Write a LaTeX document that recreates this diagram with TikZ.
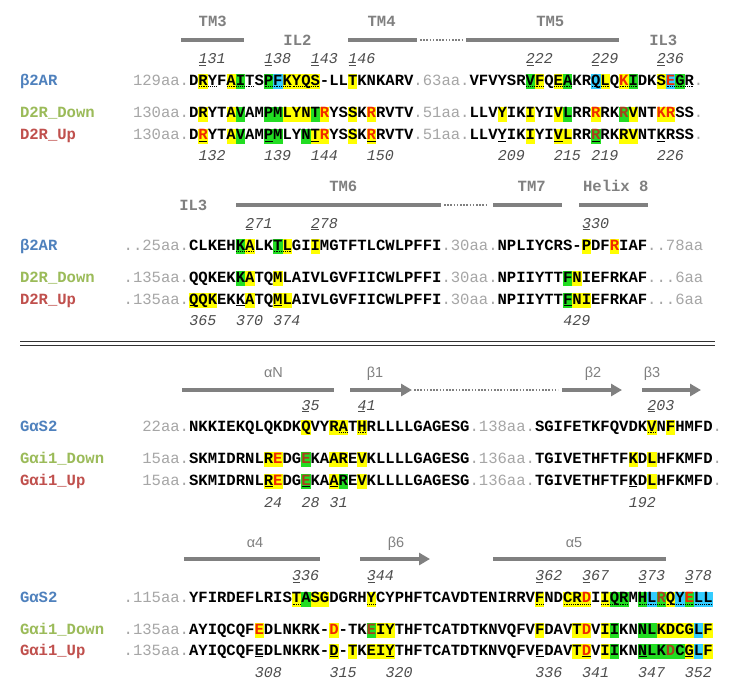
\documentclass[tikz,border=0pt]{standalone}
\usepackage{fontspec}
\setmonofont{Liberation Mono}
\newfontfamily\greekfont{Liberation Sans}
\usetikzlibrary{arrows.meta}

\definecolor{yel}{HTML}{FFFF00}
\definecolor{grn}{HTML}{22DD22}
\definecolor{cyn}{HTML}{33CCFF}
\definecolor{resred}{HTML}{F02800}
\definecolor{resdark}{HTML}{A8401C}
\definecolor{pregray}{HTML}{A6A6A6}
\definecolor{numgray}{HTML}{4D4D4D}
\definecolor{strgray}{HTML}{808080}
\definecolor{refblue}{HTML}{4F81BD}
\definecolor{downgreen}{HTML}{9BBB59}
\definecolor{upred}{HTML}{C0504D}

% column grid of the alignment
\def\xo{133}
\def\pitch{9.35}

\newcommand\pre[1]{{\mdseries\color{pregray}#1}}
\newcommand\rd[1]{\textcolor{resred}{#1}}
\newcommand\dk[1]{\textcolor{resdark}{#1}}

% highlight boxes: baseline, list of column/colour
\newcommand\hlbox[2]{\foreach \c/\hc in {#2}{\fill[\hc] ({\xo+\pitch*\c},#1-11) rectangle ++(\pitch,15.3);}}
% underlines under residues: baseline, style, columns
\newcommand\ulres[3]{\foreach \c in {#3}{\draw[#2] ({\xo+\pitch*\c+0.6},#1+1.8) -- ++(\pitch-1.2,0);}}
% residue numbers above (first digit underlined) and below
\newcommand\numtop[3]{\foreach \c/\n in {#3}{\node[num] (#1\n) at ({\xo+\pitch*\c},#2) {\n};
  \draw[numline] ({\xo+\pitch*\c+0.8},#2+1.5) -- ++(\pitch-2.2,0);}}
\newcommand\numbot[3]{\foreach \c/\n in {#3}{\node[num] (#1\n) at ({\xo+\pitch*\c},#2) {\n};}}

\tikzset{
  seq/.style={anchor=base west, inner sep=0pt, outer sep=0pt,
    font=\ttfamily\bfseries\fontsize{15.58}{18}\selectfont},
  num/.style={anchor=base west, inner sep=0pt, text=numgray,
    font=\ttfamily\mdseries\itshape\fontsize{15}{18}\selectfont},
  numline/.style={numgray, line width=0.7pt},
  solidul/.style={black, line width=0.9pt},
  dotul/.style={black, line width=0.9pt, dash pattern=on 0.9pt off 0.9pt},
  strlbl/.style={anchor=base, inner sep=0pt, text=strgray,
    font=\ttfamily\bfseries\fontsize{15.58}{18}\selectfont},
  greeklbl/.style={anchor=base, inner sep=0pt, text=strgray,
    font=\greekfont\fontsize{14.5}{17}\selectfont},
  helixbar/.style={strgray, line width=4.5pt},
  loopdots/.style={strgray, line width=1.6pt, dash pattern=on 1.6pt off 1.6pt},
  strandarrow/.style={helixbar, -{Triangle[length=11pt, width=12pt]}},
}

\begin{document}
\begin{tikzpicture}[x=1pt, y=-1pt]
\useasboundingbox (0,0) rectangle (736,697);
\fill[white] (0,0) rectangle (736,697);

% ---------- panel 1: beta2AR / D2R, TM3 - IL3 ----------
\node[strlbl] (tm3) at (212.7,26) {TM3};
\node[strlbl] (il2) at (297.5,45) {IL2};
\node[strlbl] (tm4) at (381.6,26) {TM4};
\node[strlbl] (tm5) at (550.3,26) {TM5};
\node[strlbl] (il3a) at (663.3,45) {IL3};
\draw[helixbar] (181,40) -- (244,40);
\draw[helixbar] (348,40) -- (417,40);
\draw[loopdots] (420,40) -- (462,40);
\draw[helixbar] (466,40) -- (619,40);

\hlbox{85}{7/yel,10/yel,11/grn,14/grn,15/cyn,16/yel,17/yel,18/yel,19/yel,23/yel,
  42/grn,43/yel,45/yel,46/grn,49/cyn,50/yel,52/yel,53/grn,56/yel,57/cyn,58/grn}
\hlbox{117.5}{7/yel,10/yel,11/grn,14/grn,15/grn,16/yel,17/yel,18/yel,19/grn,20/yel,23/yel,25/yel,
  39/yel,42/yel,45/yel,46/grn,49/yel,52/grn,53/yel,56/yel,57/yel}
\hlbox{139.5}{7/yel,10/yel,11/grn,14/grn,15/grn,18/grn,19/yel,20/yel,23/yel,25/yel,
  42/yel,45/yel,46/yel,49/grn,52/yel,53/yel}

\node[seq, text=refblue] (lb2ar1) at (20,85) {β2AR};
\node[seq, text=downgreen] (ld2rdown1) at (20,117.5) {D2R\_Down};
\node[seq, text=upred] (ld2rup1) at (20,139.5) {D2R\_Up};

\node[seq] (b2ar1) at (\xo,85) {\pre{129aa.}DRYFAITSPFKYQS-LLTKNKARV\pre{.63aa.}VFVYSRVFQEAKRQLQ\rd{K}IDKS\rd{E}GR\pre{.}};
\node[seq] (d2rdown1) at (\xo,117.5) {\pre{130aa.}DRYTAVAMPMLYNT\rd{R}YSSK\rd{R}RVTV\pre{.51aa.}LLVYIKIYIVLRR\rd{R}RK\dk{R}VNT\rd{KR}SS\pre{.}};
\node[seq] (d2rup1) at (\xo,139.5) {\pre{130aa.}D\rd{R}YTAVAMPMLYNT\rd{R}YSSK\rd{R}RVTV\pre{.51aa.}LLVYIKIYIVLRR\dk{R}RKRVNTKRSS\pre{.}};

\ulres{85}{dotul}{7,8,10,11,12,14,15,16,17,18,19,42,43,45,46,49,50,52,53,57,58,59}
\ulres{139.5}{solidul}{7,14,19,25,39,45,49,56}
\numtop{a}{63.5}{7/131,14/138,19/143,23/146,42/222,49/229,56/236}
\numbot{b}{160}{7/132,14/139,19/144,25/150,39/209,45/215,49/219,56/226}

% ---------- panel 2: IL3 - helix 8 ----------
\node[strlbl] (il3b) at (193.3,210) {IL3};
\node[strlbl] (tm6) at (343.3,191) {TM6};
\node[strlbl] (tm7) at (531.7,191) {TM7};
\node[strlbl] (hx8) at (615.8,191) {Helix 8};
\draw[helixbar] (236,205) -- (441,205);
\draw[loopdots] (444,205) -- (488,205);
\draw[helixbar] (493,205) -- (562,205);
\draw[helixbar] (579,205) -- (648,205);

\hlbox{250}{11/grn,12/yel,15/grn,16/yel,19/yel,48/yel,51/yel}
\hlbox{282}{11/grn,12/yel,15/yel,46/grn,47/yel}
\hlbox{304}{6/yel,7/yel,8/yel,12/yel,15/yel,16/yel,46/grn,47/yel,48/yel}

\node[seq, text=refblue] (lb2ar2) at (20,250) {β2AR};
\node[seq, text=downgreen] (ld2rdown2) at (20,282) {D2R\_Down};
\node[seq, text=upred] (ld2rup2) at (20,304) {D2R\_Up};

\node[seq] (b2ar2) at (\xo-\pitch,250) {\pre{..25aa.}CLKEHKALKTLGIIMGTFTLCWLPFFI\pre{.30aa.}NPLIYCRS-PDF\rd{R}IAF\pre{..78aa}};
\node[seq] (d2rdown2) at (\xo-\pitch,282) {\pre{.135aa.}QQKEKKATQMLAIVLGVFIICWLPFFI\pre{.30aa.}NPIIYTTFNIEFRKAF\pre{...6aa}};
\node[seq] (d2rup2) at (\xo-\pitch,304) {\pre{.135aa.}QQKEKKATQMLAIVLGVFIICWLPFFI\pre{.30aa.}NPIIYTTFNIEFRKAF\pre{...6aa}};

\ulres{250}{dotul}{11,12,15,16}
\ulres{304}{solidul}{6,11,15,46}
\numtop{c}{228}{12/271,19/278,48/330}
\numbot{d}{325}{6/365,11/370,15/374,46/429}

% ---------- separator ----------
\draw[black!80, line width=1.3pt] (20,341.8) -- (715,341.8);
\draw[black!80, line width=1.3pt] (20,345.4) -- (715,345.4);

% ---------- panel 3: GaS2 / Gai1, aN - b3 ----------
\node[greeklbl] (an) at (273.5,377) {αN};
\node[greeklbl] (b1) at (375,377) {β1};
\node[greeklbl] (b2) at (593,377) {β2};
\node[greeklbl] (b3) at (652,377) {β3};
\draw[helixbar] (182,390) -- (334,390);
\draw[strandarrow] (350,390) -- (412,390);
\draw[loopdots] (414,390) -- (558,390);
\draw[strandarrow] (562,390) -- (622,390);
\draw[strandarrow] (642,390) -- (701,390);

\hlbox{431}{18/yel,21/yel,22/yel,24/yel,55/yel,57/yel}
\hlbox{463}{14/yel,15/yel,18/grn,21/yel,22/yel,24/yel,53/yel,55/yel}
\hlbox{485}{14/yel,15/yel,18/grn,21/yel,22/grn,24/yel,55/yel}

\node[seq, text=refblue] (lgas3) at (20,431) {GαS2};
\node[seq, text=downgreen] (lgaidown3) at (20,463) {Gαi1\_Down};
\node[seq, text=upred] (lgaiup3) at (20,485) {Gαi1\_Up};

\node[seq] (gas3) at (\xo+\pitch,431) {\pre{22aa.}NKKIEKQLQKDKQVYRATHRLLLLGAGESG\pre{.138aa.}SGIFETKFQVDKVNFHMFD\pre{.}};
\node[seq] (gaidown3) at (\xo+\pitch,463) {\pre{15aa.}SKMIDRNLR\rd{E}DG\dk{E}KAAREVKLLLLGAGESG\pre{.136aa.}TGIVETHFTFKDLHFKMFD\pre{.}};
\node[seq] (gaiup3) at (\xo+\pitch,485) {\pre{15aa.}SKMIDRNLR\rd{E}DG\dk{E}KAAREVKLLLLGAGESG\pre{.136aa.}TGIVETHFTFKDLHFKMFD\pre{.}};

\ulres{431}{dotul}{22,24,55}
\ulres{485}{solidul}{14,18,21,53}
\numtop{e}{410}{18/35,24/41,55/203}
\numbot{f}{507}{14/24,18/28,21/31,53/192}

% ---------- panel 4: a4 - a5 ----------
\node[greeklbl] (a4) at (255,547) {α4};
\node[greeklbl] (b6) at (396,547) {β6};
\node[greeklbl] (a5) at (574,547) {α5};
\draw[helixbar] (184,559) -- (320,559);
\draw[strandarrow] (360,559) -- (430,559);
\draw[helixbar] (493,559) -- (666,559);

\hlbox{602.5}{17/yel,18/grn,19/yel,20/yel,25/yel,43/yel,46/yel,47/yel,48/yel,50/yel,51/grn,52/grn,
  54/grn,55/cyn,56/grn,57/yel,58/cyn,59/grn,60/cyn,61/cyn}
\hlbox{634}{13/yel,21/yel,25/grn,26/yel,27/yel,43/yel,47/yel,48/yel,50/yel,51/grn,54/grn,55/grn,
  56/yel,57/yel,58/yel,59/yel,60/cyn,61/yel}
\hlbox{655}{21/yel,23/yel,25/yel,26/yel,27/yel,47/yel,48/yel,50/yel,51/grn,54/grn,55/grn,56/grn,
  57/grn,58/grn,59/yel,60/cyn,61/yel}

\node[seq, text=refblue] (lgas4) at (20,602.5) {GαS2};
\node[seq, text=downgreen] (lgaidown4) at (20,634) {Gαi1\_Down};
\node[seq, text=upred] (lgaiup4) at (20,655) {Gαi1\_Up};

\node[seq] (gas4) at (\xo-\pitch,602.5) {\pre{.115aa.}YFIRDEFLRISTASGDGRHYCYPHFTCAVDTENIRRVFNDCR\rd{D}IIQRMHL\dk{R}QY\rd{E}LL};
\node[seq] (gaidown4) at (\xo-\pitch,634) {\pre{.135aa.}AYIQCQF\rd{E}DLNKRK-\rd{D}-TK\dk{E}IYTHFTCATDTKNVQFVFDAVT\rd{D}VIIKNNLKDCGLF};
\node[seq] (gaiup4) at (\xo-\pitch,655) {\pre{.135aa.}AYIQCQFEDLNKRK-D-TKEIYTHFTCATDTKNVQFVFDAVT\rd{D}VIIKNNLK\dk{D}CGLF};

\ulres{602.5}{dotul}{17,25,43,46,47,48,50,51,52,54,55,56,57,58,59,60,61}
\ulres{655}{solidul}{13,21,27,43,48,54,59}
\numtop{g}{580.5}{17/336,25/344,43/362,48/367,54/373,59/378}
\numbot{h}{677}{13/308,21/315,27/320,43/336,48/341,54/347,59/352}
\end{tikzpicture}
\end{document}
